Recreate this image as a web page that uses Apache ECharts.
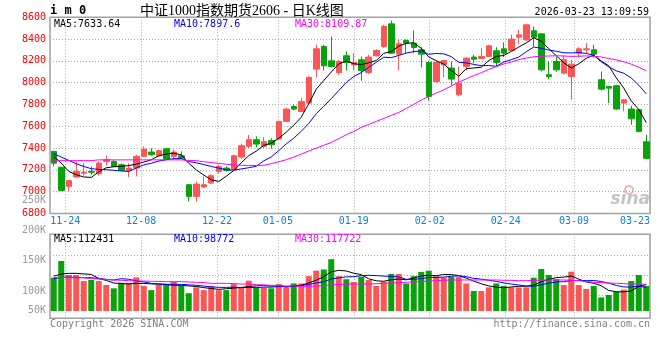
<!DOCTYPE html>
<html>
<head>
<meta charset="utf-8">
<script src="https://cdn.jsdelivr.net/npm/echarts@6.0.0/dist/echarts.min.js"></script>
<style>
  html, body { margin: 0; padding: 0; background: #fff; }
  #mainChart { width: 660px; height: 360px; }
</style>
</head>
<body>
<div id="mainChart"></div>
<script>
// trading days shown
const dates = ['11-20','11-21','11-24','11-25','11-26','11-27','11-28','12-01','12-02','12-03',
  '12-04','12-05','12-08','12-09','12-10','12-11','12-12','12-15','12-16','12-17',
  '12-18','12-19','12-22','12-23','12-24','12-25','12-26','12-29','12-30','12-31',
  '01-05','01-06','01-07','01-08','01-09','01-12','01-13','01-14','01-15','01-16',
  '01-19','01-20','01-21','01-22','01-23','01-26','01-27','01-28','01-29','01-30',
  '02-02','02-03','02-04','02-05','02-06','02-09','02-10','02-11','02-12','02-13',
  '02-24','02-25','02-26','02-27','03-02','03-03','03-04','03-05','03-06','03-09',
  '03-10','03-11','03-12','03-13','03-16','03-17','03-18','03-19','03-20','03-23'];

const openP = [7370,7225,7049,7135,7170,7187,7165,7278,7278,7247,
  7195,7217,7324,7364,7330,7394,7324,7330,7064,6957,
  7043,7080,7186,7217,7202,7318,7416,7477,7416,7471,
  7483,7645,7782,7736,7813,8125,8332,8201,8094,8247,
  8164,8210,8094,8247,8332,8540,8262,8387,8363,8302,
  8186,8011,8164,8134,7889,8149,8235,8222,8241,8293,
  8311,8296,8418,8393,8476,8448,8073,8195,8088,8057,
  8271,8302,8302,8027,7966,7972,7813,7758,7752,7458];
const closeP = [7262,7012,7101,7186,7180,7178,7263,7293,7232,7195,
  7217,7324,7391,7339,7376,7300,7364,7309,6957,7070,
  7064,7147,7232,7195,7330,7422,7477,7437,7458,7431,
  7645,7758,7758,7828,8048,8311,8155,8149,8195,8186,
  8186,8112,8235,8296,8516,8271,8357,8363,8323,8262,
  7874,8186,8204,8033,7996,8225,8216,8241,8338,8186,
  8271,8400,8439,8531,8418,8118,8057,8118,8210,8170,
  8311,8311,8262,7941,7950,7758,7843,7669,7553,7306];
const lowP = [7232,7008,7003,7130,7147,7156,7147,7238,7225,7190,
  7135,7141,7320,7330,7320,7295,7293,7300,6911,6911,
  7033,7070,7165,7186,7195,7300,7400,7407,7400,7395,
  7478,7640,7746,7730,7808,8048,8112,8140,8073,8112,
  8112,8018,8080,8240,8320,8265,8112,8271,8271,8140,
  7834,8000,8051,7975,7874,8112,8180,8216,8235,8149,
  8235,8290,8357,8385,8332,8103,8033,8100,8073,7844,
  8235,8271,8235,7929,7813,7752,7737,7614,7545,7300];
const highP = [7375,7228,7105,7278,7262,7232,7278,7333,7290,7260,
  7262,7339,7416,7400,7385,7400,7385,7370,7070,7095,
  7140,7160,7247,7232,7340,7440,7520,7507,7501,7490,
  7650,7770,7797,7859,8060,8348,8348,8424,8210,8287,
  8271,8241,8256,8305,8530,8570,8393,8400,8479,8326,
  8201,8198,8210,8195,8149,8235,8256,8317,8348,8326,
  8369,8440,8485,8540,8516,8452,8195,8235,8247,8210,
  8326,8363,8348,8103,7972,7980,7850,7788,7760,7523];

const ma5 = [7324,7263,7186,7156,7135,7131,7182,7220,7229,7232,
  7240,7252,7272,7293,7329,7346,7354,7338,7261,7200,
  7153,7109,7094,7142,7194,7265,7331,7372,7425,7445,
  7490,7546,7610,7684,7807,7941,8020,8098,8172,8199,
  8174,8166,8183,8203,8269,8286,8335,8361,8366,8315,
  8236,8202,8170,8112,8059,8129,8135,8142,8203,8241,
  8250,8287,8327,8365,8412,8381,8313,8248,8184,8135,
  8173,8224,8253,8199,8155,8044,7951,7832,7755,7634];
const ma10 = [7348,7318,7287,7257,7232,7211,7205,7202,7196,7190,
  7186,7217,7246,7261,7281,7293,7303,7305,7277,7265,
  7249,7232,7216,7201,7197,7209,7220,7233,7283,7319,
  7377,7439,7491,7554,7626,7715,7783,7854,7928,8003,
  8057,8093,8141,8187,8234,8230,8250,8272,8285,8292,
  8261,8268,8265,8239,8187,8182,8168,8156,8158,8150,
  8190,8211,8235,8284,8327,8316,8300,8288,8275,8273,
  8277,8268,8251,8192,8145,8109,8087,8043,7977,7898];
const ma30 = [7285,7285,7285,7285,7285,7285,7292,7292,7292,7292,
  7292,7292,7292,7292,7292,7292,7292,7292,7287,7285,
  7275,7268,7260,7252,7246,7242,7241,7241,7242,7257,
  7275,7293,7318,7345,7373,7400,7425,7452,7486,7523,
  7553,7590,7617,7645,7672,7700,7727,7764,7801,7840,
  7874,7905,7935,7970,8005,8035,8065,8092,8122,8148,
  8172,8190,8212,8225,8238,8242,8245,8247,8245,8241,
  8243,8246,8242,8236,8222,8210,8192,8170,8142,8110];

const volume = [122500,150000,127000,127000,117000,118700,117000,110500,105000,114000,
  114000,123000,109000,102000,110500,112000,116000,109000,97000,106600,
  102000,109000,102000,102000,112000,106600,117600,106600,106600,105000,
  112000,106600,113000,113000,125000,134000,136000,153000,125000,120000,
  115400,124000,118700,109000,116000,128600,128600,113000,125000,132000,
  134000,125000,123000,124000,124000,113000,100600,100600,106600,113000,
  109000,106600,106600,106600,122500,136800,127000,120000,110500,132400,
  110500,104000,109000,90000,94000,99500,103000,117000,127000,109000];
const volMa5 = [125000,128500,129700,129700,128700,127900,121300,118000,113600,113000,
  112100,113300,113000,112400,111700,111300,109900,109900,108900,108100,
  106100,104700,103300,104300,105400,106300,108000,109000,109900,108500,
  109600,107400,108600,109900,113900,118300,124200,132200,134600,133600,
  129900,127500,120600,117400,116600,119300,120200,119000,122200,125400,
  126500,125800,127800,127600,126000,121800,116900,112400,109000,106800,
  106000,107200,108400,108400,110300,115800,119900,122600,123400,125300,
  120100,115500,113300,109200,101500,99300,99100,100700,108100,111100];
const volMa10 = [120900,123000,123600,123000,122500,122500,121300,119700,118700,120900,
  120000,117300,115500,113000,112400,111700,111600,111500,110700,109900,
  108700,107300,106600,106600,106800,106200,106400,106100,107100,106900,
  107900,107700,108800,109900,111200,113900,115800,120400,122300,123800,
  124100,125800,126400,126000,125100,124600,123800,119800,119800,121000,
  122900,123000,123400,124900,125700,124200,121400,120100,118300,116400,
  113900,112000,110400,108700,108500,110900,113500,115500,115900,117800,
  118000,117700,117900,116300,113400,109700,107300,107000,108600,106300];
const volMa30 = [123000,123000,122500,122500,122500,120800,120300,119700,118700,118200,
  117600,117000,117000,116500,116500,116000,116000,116000,115400,114900,
  114400,113200,113200,113200,112700,112100,112100,111000,110500,110000,
  109400,108800,108800,108300,108300,108800,109400,110500,111600,111600,
  112100,112100,112100,112700,113200,113800,114400,114900,115400,116000,
  117000,117600,118200,118700,118700,118700,118700,118700,118700,118700,
  118200,118200,117600,117600,118200,118200,118700,118700,118700,118200,
  117600,116000,114900,114400,113800,113200,112700,112100,112100,111600];

// tick positions (day index) that carry a date label / grid line
const dateTicks = [2, 12, 22, 30, 40, 50, 60, 69, 79];
const priceTicks = [6800, 8600, 200];       // min, max, step
const volLabelTicks = [50000, 250000, 50000];
const volGridTicks = [94000, 126400, 158700];

const upColor = '#fb5656';
const downColor = '#0aa20a';
const mono = 'DejaVu Sans Mono';
const dotted = { color: '#aaa', width: 1, type: [1, 2] };

var chartDom = document.getElementById('mainChart');
var myChart = echarts.init(chartDom, null, { renderer: 'canvas' });
var option;

const kData = dates.map((d, i) => [openP[i], closeP[i], lowP[i], highP[i]]);
const volData = volume.map((v, i) => ({
  value: v,
  itemStyle: { color: closeP[i] >= openP[i] ? upColor : downColor }
}));

function maLine(name, data, color, xi, yi) {
  return {
    name: name, type: 'line', data: data, xAxisIndex: xi, yAxisIndex: yi,
    symbol: 'none', silent: true, z: 3,
    lineStyle: { color: color, width: 1 }
  };
}

option = {
  animation: false,
  backgroundColor: '#fff',
  grid: [
    { left: 50, right: 10, top: 17.3, height: 196.2, show: true, borderColor: '#a0a0a0', borderWidth: 1.5, outerBoundsMode: 'none' },
    { left: 50, right: 10, top: 234.3, height: 84, show: true, borderColor: '#a0a0a0', borderWidth: 1.5, outerBoundsMode: 'none' },
    { left: 50, right: 10, top: 200, height: 121.4, show: false, outerBoundsMode: 'none' }
  ],
  xAxis: [
    { type: 'category', gridIndex: 0, data: dates, show: false },
    {
      type: 'value', gridIndex: 0, min: 0, max: 79, position: 'bottom',
      axisLine: { show: false },
      axisTick: { show: false, customValues: dateTicks },
      axisLabel: {
        customValues: dateTicks, formatter: v => dates[v], color: '#0a84d0',
        fontFamily: mono, fontSize: 10, margin: 3, alignMaxLabel: 'right'
      },
      splitLine: { show: true, lineStyle: dotted }
    },
    { type: 'category', gridIndex: 1, data: dates, show: false },
    {
      type: 'value', gridIndex: 1, min: 0, max: 79,
      axisLine: { show: false },
      axisTick: { show: false, customValues: dateTicks },
      axisLabel: { show: false },
      splitLine: { show: true, lineStyle: dotted }
    },
    { type: 'value', gridIndex: 2, min: 0, max: 1, show: false }
  ],
  yAxis: [
    {
      type: 'value', gridIndex: 0, min: priceTicks[0], max: priceTicks[1], interval: priceTicks[2],
      axisLine: { show: false }, axisTick: { show: false },
      axisLabel: { color: '#f00', fontFamily: mono, fontSize: 10, margin: 4, formatter: v => String(v) },
      splitLine: { show: true, lineStyle: dotted }
    },
    {
      type: 'value', gridIndex: 1, min: 55600, max: 194000, startValue: 67600,
      axisLine: { show: false },
      axisTick: { show: false, customValues: volGridTicks },
      axisLabel: { show: false },
      splitLine: { show: true, lineStyle: dotted }
    },
    {
      type: 'value', gridIndex: 2, min: volLabelTicks[0], max: volLabelTicks[1], interval: volLabelTicks[2],
      axisLine: { show: false }, axisTick: { show: false }, splitLine: { show: false },
      axisLabel: {
        color: '#999', fontFamily: mono, fontSize: 10, margin: 4,
        formatter: function (v) {
          var s = (v / 1000) + 'K';
          return v === volLabelTicks[0] ? '{low|' + s + '}' : s;
        },
        rich: { low: { padding: [0, 0, 21, 0], color: '#999', fontFamily: mono, fontSize: 10 } }
      }
    }
  ],
  series: [
    {
      name: 'K', type: 'candlestick', data: kData, xAxisIndex: 0, yAxisIndex: 0,
      barWidth: 6,
      itemStyle: { color: upColor, color0: downColor, borderColor: upColor, borderColor0: downColor, borderWidth: 1 }
    },
    maLine('MA5', ma5, '#000', 0, 0),
    maLine('MA10', ma10, '#0000ff', 0, 0),
    maLine('MA30', ma30, '#ff00ff', 0, 0),
    {
      name: 'VOL', type: 'bar', data: volData, xAxisIndex: 2, yAxisIndex: 1,
      barWidth: 6, clip: true
    },
    maLine('VMA5', volMa5, '#000', 2, 1),
    maLine('VMA10', volMa10, '#0000ff', 2, 1),
    maLine('VMA30', volMa30, '#ff00ff', 2, 1)
  ],
  graphic: [
    { type: 'text', x: 50, y: 11, style: { text: 'i m 0', font: 'bold 12px "DejaVu Sans Mono"', fill: '#000', verticalAlign: 'middle' } },
    { type: 'text', x: 140, y: 11, style: { text: '中证1000指数期货2606 - 日K线图', font: '14px "Liberation Serif", "Noto Sans CJK SC"', fill: '#000', verticalAlign: 'middle' } },
    { type: 'text', x: 649, y: 12, style: { text: '2026-03-23 13:09:59', font: '10px "DejaVu Sans Mono"', fill: '#000', align: 'right', verticalAlign: 'middle' } },
    { type: 'text', x: 54, y: 24, style: { text: 'MA5:7633.64', font: '10px "DejaVu Sans Mono"', fill: '#000', verticalAlign: 'middle' } },
    { type: 'text', x: 174, y: 24, style: { text: 'MA10:7897.6', font: '10px "DejaVu Sans Mono"', fill: '#0000ff', verticalAlign: 'middle' } },
    { type: 'text', x: 295, y: 24, style: { text: 'MA30:8109.87', font: '10px "DejaVu Sans Mono"', fill: '#ff00ff', verticalAlign: 'middle' } },
    { type: 'text', x: 54, y: 239, style: { text: 'MA5:112431', font: '10px "DejaVu Sans Mono"', fill: '#000', verticalAlign: 'middle' } },
    { type: 'text', x: 174, y: 239, style: { text: 'MA10:98772', font: '10px "DejaVu Sans Mono"', fill: '#0000ff', verticalAlign: 'middle' } },
    { type: 'text', x: 295, y: 239, style: { text: 'MA30:117722', font: '10px "DejaVu Sans Mono"', fill: '#ff00ff', verticalAlign: 'middle' } },
    { type: 'text', x: 50, y: 324, style: { text: 'Copyright 2026 SINA.COM', font: '10px "DejaVu Sans Mono"', fill: '#808080', verticalAlign: 'middle' } },
    { type: 'text', x: 650, y: 324, style: { text: 'http://finance.sina.com.cn', font: '10px "DejaVu Sans Mono"', fill: '#808080', align: 'right', verticalAlign: 'middle' } },
    // sina watermark
    { type: 'circle', shape: { cx: 629, cy: 190, r: 4 }, style: { fill: 'none', stroke: '#f2b6b6', lineWidth: 2 } },
    { type: 'text', x: 650, y: 200, style: { text: 'sina', font: 'italic bold 17px "DejaVu Sans"', fill: '#c4c4c4', align: 'right', verticalAlign: 'middle' } }
  ]
};

option && myChart.setOption(option);
</script>
</body>
</html>
